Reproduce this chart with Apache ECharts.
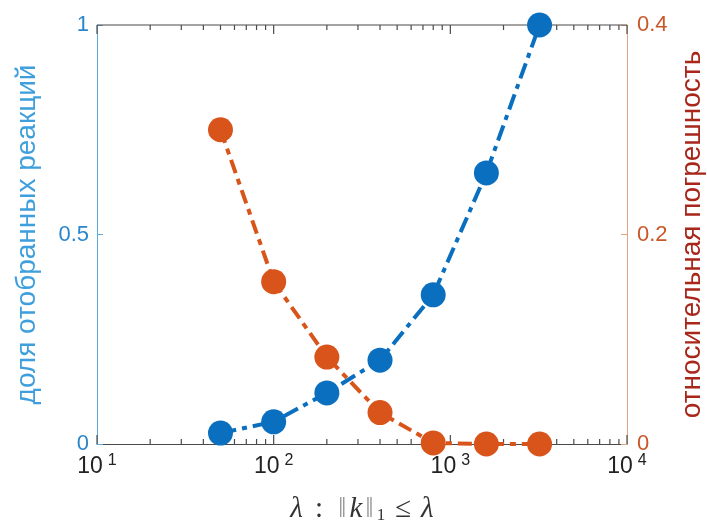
<!DOCTYPE html>
<html>
<head>
<meta charset="utf-8">
<script src="https://cdn.jsdelivr.net/npm/echarts@6/dist/echarts.min.js"></script>
<style>
  html, body { margin: 0; padding: 0; background: #fff; }
  #chart { width: 707px; height: 522px; }
</style>
</head>
<body>
<div id="chart"></div>
<script>
// Threshold λ on the 1-norm of reaction index vectors
const lambdaValues = [50, 100, 200, 400, 800, 1600, 3200];
// Fraction of selected reactions (left axis)
const selectedShare = [0.026, 0.053, 0.122, 0.2, 0.356, 0.647, 1.0];
// Relative error (right axis)
const relativeError = [0.3, 0.155, 0.083, 0.03, 0.001, 0, 0];

// Axis ranges and tick labels
const xDecades = [1, 2, 3, 4];
const leftTicks = [0, 0.5, 1];
const rightTicks = [0, 0.2, 0.4];
const minorMultipliers = [2, 3, 4, 5, 6, 7, 8, 9];

const FONT = '"Liberation Sans", Arial, sans-serif';
const SERIF = '"Liberation Serif", "DejaVu Serif", serif';
const BLUE = '#0b6fbf';
const ORANGE = '#d9541b';
const FRAME = '#4a4a4a';

// tick marks of the logarithmic x axis: [value, tick length, next decade or 0]
const xTickMarks = [];
for (let i = 0; i < xDecades.length; i++) {
  const decade = Math.pow(10, xDecades[i]);
  const next = i < xDecades.length - 1 ? Math.pow(10, xDecades[i + 1]) : 0;
  xTickMarks.push([decade, 9, next]);
  if (next) {
    for (const m of minorMultipliers) xTickMarks.push([m * decade, 5, 0]);
  }
}

const chart = echarts.init(document.getElementById('chart'), null, { renderer: 'canvas' });

const xMin = Math.pow(10, xDecades[0]);
const xMax = Math.pow(10, xDecades[xDecades.length - 1]);

function frameLine(x1, y1, x2, y2) {
  return { type: 'line', shape: { x1, y1, x2, y2 }, style: { stroke: FRAME, lineWidth: 1.2 } };
}

const option = {
  backgroundColor: '#ffffff',
  animation: false,
  grid: { left: 97, right: 80, top: 25, bottom: 78, containLabel: false, outerBoundsMode: 'none' },
  xAxis: {
    type: 'log', logBase: 10, min: xMin, max: xMax, position: 'bottom',
    axisLine: { show: true, onZero: false, lineStyle: { color: FRAME, width: 1 } },
    axisTick: { show: false },
    splitLine: { show: false },
    axisLabel: {
      margin: 9,
      formatter: function (v) {
        const e = Math.round(Math.log10(v));
        return '{b|10}{s|' + e + '}';
      },
      rich: {
        b: { fontSize: 23, fontFamily: FONT, color: '#222', lineHeight: 28 },
        s: { fontSize: 16, fontFamily: FONT, color: '#222', verticalAlign: 'top', lineHeight: 16, padding: [0, 0, 0, 5] }
      }
    },
    name: '{it|λ}{n|:}{bar|‖}{it|k}{bar|‖}{sub|1}{le|≤}{it|λ}',
    nameLocation: 'middle',
    nameGap: 50,
    nameTextStyle: {
      rich: {
        it: { fontFamily: SERIF, fontStyle: 'italic', fontSize: 29, color: '#333', lineHeight: 30 },
        n: { fontFamily: SERIF, fontSize: 29, color: '#333', lineHeight: 30, padding: [0, 12, 0, 12] },
        le: { fontFamily: SERIF, fontSize: 29, color: '#333', lineHeight: 30, padding: [0, 10, 0, 10] },
        bar: { fontFamily: SERIF, fontSize: 30, color: '#9a9a9a', lineHeight: 30, padding: [0, 3, 0, 3] },
        sub: { fontFamily: SERIF, fontSize: 17, color: '#333', verticalAlign: 'bottom', lineHeight: 17 }
      }
    }
  },
  yAxis: [
    {
      type: 'value', position: 'left', min: leftTicks[0], max: leftTicks[leftTicks.length - 1], interval: 0.5,
      axisLine: { show: true, lineStyle: { color: '#5aaae0', width: 1 } },
      axisTick: { show: true, inside: true, length: 6, lineStyle: { color: '#5aaae0' } },
      splitLine: { show: false },
      axisLabel: { fontSize: 22, fontFamily: FONT, color: '#2a86cc', margin: 8,
        formatter: v => String(leftTicks.find(t => Math.abs(t - v) < 1e-9) ?? v) },
      name: 'доля отобранных реакций',
      nameLocation: 'middle',
      nameGap: 56,
      nameTextStyle: { fontSize: 28, fontFamily: FONT, color: '#3f9fdc' }
    },
    {
      type: 'value', position: 'right', min: rightTicks[0], max: rightTicks[rightTicks.length - 1], interval: 0.2,
      axisLine: { show: true, lineStyle: { color: '#e3a57f', width: 1 } },
      axisTick: { show: true, inside: true, length: 6, lineStyle: { color: '#e3a57f' } },
      splitLine: { show: false },
      axisLabel: { fontSize: 22, fontFamily: FONT, color: '#c8582a', margin: 10,
        formatter: v => String(rightTicks.find(t => Math.abs(t - v) < 1e-9) ?? v) },
      name: 'относительная погрешность',
      nameLocation: 'middle',
      nameGap: 42,
      nameTextStyle: { fontSize: 28, fontFamily: FONT, color: '#a8261a' }
    }
  ],
  series: [
    {
      // log-axis ticks on the bottom and top edges, plus the top frame line
      type: 'custom',
      xAxisIndex: 0, yAxisIndex: 0,
      data: xTickMarks,
      renderItem: function (params, api) {
        const v = api.value(0);
        const len = api.value(1);
        const next = api.value(2);
        const bottom = api.coord([v, leftTicks[0]]);
        const top = api.coord([v, leftTicks[leftTicks.length - 1]]);
        const x = bottom[0];
        const children = [
          frameLine(x, bottom[1], x, bottom[1] - len),
          frameLine(x, top[1], x, top[1] + len)
        ];
        if (next) {
          const end = api.coord([next, leftTicks[leftTicks.length - 1]]);
          children.push(frameLine(top[0], top[1], end[0], end[1]));
        }
        return { type: 'group', children: children };
      }
    },
    {
      name: 'относительная погрешность',
      type: 'line',
      xAxisIndex: 0, yAxisIndex: 1,
      data: lambdaValues.map((x, i) => [x, relativeError[i]]),
      symbol: 'circle', symbolSize: 25,
      clip: false,
      z: 3,
      lineStyle: { color: ORANGE, width: 4, type: [14, 6, 6, 6] },
      itemStyle: { color: ORANGE }
    },
    {
      name: 'доля отобранных реакций',
      type: 'line',
      xAxisIndex: 0, yAxisIndex: 0,
      data: lambdaValues.map((x, i) => [x, selectedShare[i]]),
      symbol: 'circle', symbolSize: 25,
      clip: false,
      z: 4,
      lineStyle: { color: BLUE, width: 4, type: [16, 6, 5, 6] },
      itemStyle: { color: BLUE }
    }
  ]
};

chart.setOption(option);
</script>
</body>
</html>
